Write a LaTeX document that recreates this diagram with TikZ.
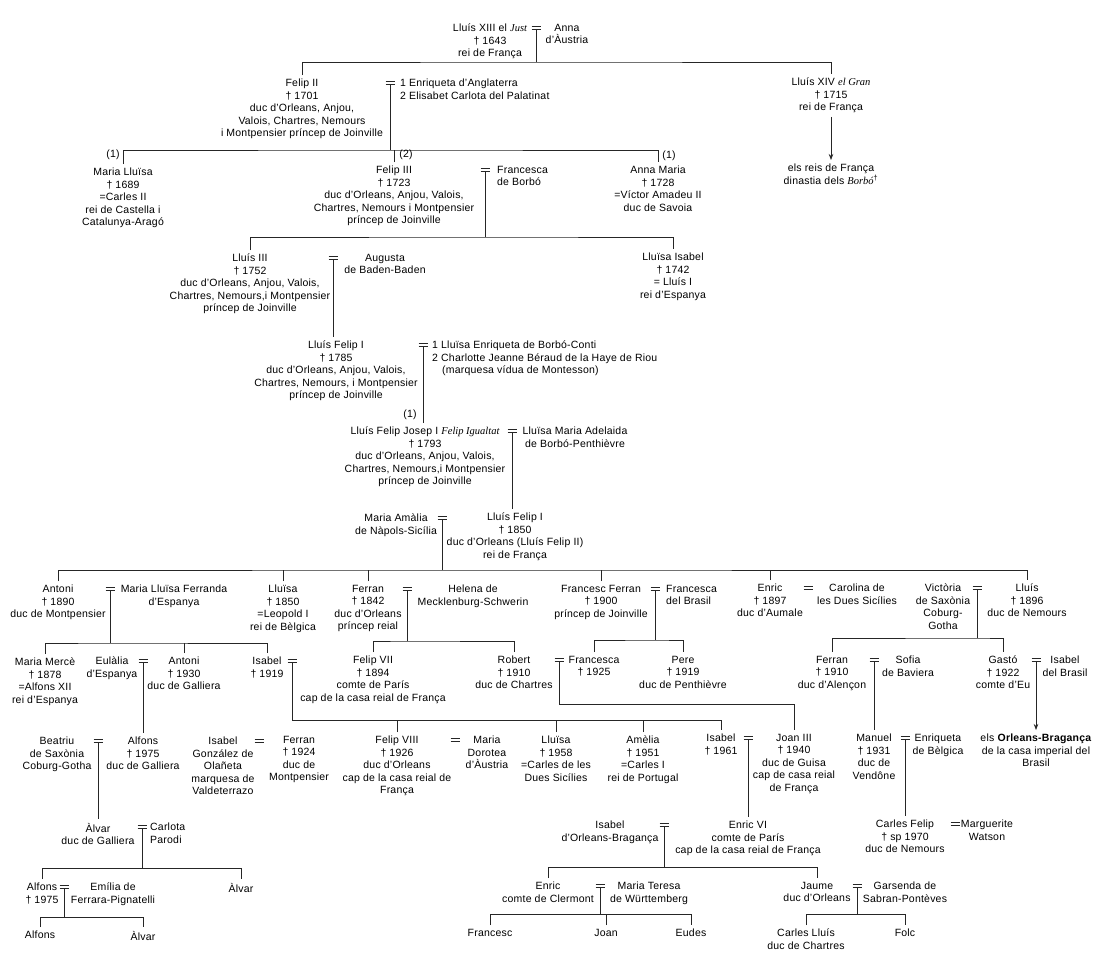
\documentclass[tikz,border=0pt]{standalone}
\usepackage{fontspec}
\setmainfont{Liberation Sans}[LetterSpace=2]
\newfontfamily\itserfam{Liberation Serif}
\newcommand\ivs[1]{{\itserfam\itshape #1}}
\usetikzlibrary{arrows.meta}
\tikzset{
  pers/.style={align=center, inner sep=0pt, outer ysep=4pt, anchor=north, yshift=8pt},
  spl/.style={align=left, inner sep=0pt, anchor=north west, yshift=4pt},
  lab/.style={inner sep=0pt, anchor=center},
  eqn/.style={inner sep=0pt, minimum size=0pt},
  ln/.style={line width=0.7pt, draw=black!85},
  arr/.style={ln, -{Stealth[length=6pt,width=4.5pt]}},
}
\newcommand\eqsign[2]{\node[eqn] (#1) at (#2) {};
  \draw[ln] ([shift={(-4.5pt,1.6pt)}]#1.center) -- ++(9pt,0pt)
            ([shift={(-4.5pt,-1.6pt)}]#1.center) -- ++(9pt,0pt);}
\begin{document}
\begin{tikzpicture}[x=1pt,y=-1pt,font=\fontsize{10.5pt}{12.5pt}\selectfont]
\fill[white] (0,0) rectangle (1100,961);
\useasboundingbox (0,0) rectangle (1100,961);

% ---- Lluis XIII
\node[pers] (lxiii) at (490,28) {Lluís XIII el \ivs{Just}\\† 1643\\rei de França};
\eqsign{e0}{536,28}
\node[pers] (anna) at (567,28) {Anna\\d’Àustria};
\coordinate (b0) at (536,62);
\draw[ln] ([yshift=-1.6pt]e0.center) -- (b0);
\node[pers] (f2) at (302,83) {Felip II\\† 1701\\duc d’Orleans, Anjou,\\Valois, Chartres, Nemours\\i Montpensier príncep de Joinville};
\node[pers] (lxiv) at (831,82) {Lluís XIV \ivs{el Gran}\\† 1715\\rei de França};
\draw[ln] (f2.north) |- (b0) -| (lxiv.north);
\node[pers] (reis) at (831,168) {els reis de França\\dinastia dels \ivs{Borbó}\textsuperscript{†}};
\draw[arr] (lxiv.south) -- (reis.north);

% ---- Felip II
\eqsign{e1}{390,83}
\node[spl] (w1) at (400,83) {1 Enriqueta d’Anglaterra\\2 Elisabet Carlota del Palatinat};
\coordinate (b1) at (390,150);
\draw[ln] ([yshift=-1.6pt]e1.center) -- (b1);
\node[pers] (ml) at (123,172) {Maria Lluïsa\\† 1689\\=Carles II\\rei de Castella i\\Catalunya-Aragó};
\node[pers] (f3) at (394,170) {Felip III\\† 1723\\duc d’Orleans, Anjou, Valois,\\Chartres, Nemours i Montpensier\\príncep de Joinville};
\node[pers] (am) at (658,170) {Anna Maria\\† 1728\\=Víctor Amadeu II\\duc de Savoia};
\draw[ln] (ml.north) |- (b1) -| (am.north);
\draw[ln] (f3.north) -- (f3.north |- b1);
\node[lab] (n1) at (113,155) {(1)};
\node[lab] (n2) at (406,155) {(2)};
\node[lab] (n3) at (669,156) {(1)};

% ---- Felip III
\eqsign{e2}{485,170}
\node[spl] (fb) at (497,170) {Francesca\\de Borbó};
\coordinate (b2) at (485,237);
\draw[ln] ([yshift=-1.6pt]e2.center) -- (b2);
\node[pers] (l3) at (250,258) {Lluís III\\† 1752\\duc d’Orleans, Anjou, Valois,\\Chartres, Nemours,i Montpensier\\príncep de Joinville};
\node[pers] (lis) at (673,257) {Lluïsa Isabel\\† 1742\\= Lluís I\\rei d’Espanya};
\draw[ln] (l3.north) |- (b2) -| (lis.north);

% ---- Lluis III
\eqsign{e3}{333,258}
\node[pers] (aug) at (385,258) {Augusta\\de Baden-Baden};
\node[pers] (lf1) at (336,345) {Lluís Felip I\\† 1785\\duc d’Orleans, Anjou, Valois,\\Chartres, Nemours, i Montpensier\\príncep de Joinville};
\draw[ln] ([yshift=-1.6pt]e3.center) -- (e3 |- lf1.north);

% ---- Lluis Felip I (1785)
\eqsign{e4}{423,345}
\node[spl] (w2) at (432,345) {1 Lluïsa Enriqueta de Borbó-Conti\\2 Charlotte Jeanne Béraud de la Haye de Riou\\\hspace*{10pt}(marquesa vídua de Montesson)};
\node[pers] (fj) at (425,431) {Lluís Felip Josep I \ivs{Felip Igualtat}\\† 1793\\duc d’Orleans, Anjou, Valois,\\Chartres, Nemours,i Montpensier\\príncep de Joinville};
\draw[ln] ([yshift=-1.6pt]e4.center) -- (e4 |- fj.north);
\node[lab] (n4) at (410,415) {(1)};

% ---- Felip Josep
\eqsign{e5}{512,431}
\node[pers] (lma) at (575,431) {Lluïsa Maria Adelaida\\de Borbó-Penthièvre};
\node[pers] (lf2) at (515,517) {Lluís Felip I\\† 1850\\duc d’Orleans (Lluís Felip II)\\rei de França};
\draw[ln] ([yshift=-1.6pt]e5.center) -- (e5 |- lf2.north);

% ---- Lluis Felip I (1850)
\node[pers] (mam) at (396,518) {Maria Amàlia\\de Nàpols-Sicília};
\eqsign{e6}{442,518}
\coordinate (b3) at (442,570);
\draw[ln] ([yshift=-1.6pt]e6.center) -- (b3);
\node[pers] (ant) at (58,589) {Antoni\\† 1890\\duc de Montpensier};
\node[pers] (llu) at (283,589) {Lluïsa\\† 1850\\=Leopold I\\rei de Bèlgica};
\node[pers] (fer) at (368,589) {Ferran\\† 1842\\duc d’Orleans\\príncep reial};
\node[pers] (ff) at (601,589) {Francesc Ferran\\† 1900\\príncep de Joinville};
\node[pers] (enr) at (770,588) {Enric\\† 1897\\duc d’Aumale};
\node[pers] (lln) at (1027,588) {Lluís\\† 1896\\duc de Nemours};
\draw[ln] (ant.north) |- (b3) -| (lln.north);
\foreach \c in {llu,fer,ff,enr} \draw[ln] (\c.north) -- (\c.north |- b3);

\eqsign{e7}{110,589}
\node[pers] (mlf) at (174,589) {Maria Lluïsa Ferranda\\d’Espanya};
\eqsign{e8}{407,589}
\node[pers] (hel) at (473,589) {Helena de\\Mecklenburg-Schwerin};
\eqsign{e9}{655,589}
\node[spl] (fdb) at (666,589) {Francesca\\del Brasil};
\eqsign{e10}{808,588}
\node[pers] (car) at (857,588) {Carolina de\\les Dues Sicílies};
\node[pers] (vic) at (943,588) {Victòria\\de Saxònia\\Coburg-\\Gotha};
\eqsign{e11}{977,588}

% ---- Antoni
\coordinate (b4) at (110,643);
\draw[ln] ([yshift=-1.6pt]e7.center) -- (b4);
\node[pers] (mm) at (45,662) {Maria Mercè\\† 1878\\=Alfons XII\\rei d’Espanya};
\node[pers] (an2) at (184,661) {Antoni\\† 1930\\duc de Galliera};
\node[pers] (isa) at (267,661) {Isabel\\† 1919};
\draw[ln] (mm.north) |- (b4) -| (isa.north);
\draw[ln] (an2.north) -- (an2.north |- b4);
\node[pers] (eul) at (112,661) {Eulàlia\\d’Espanya};
\eqsign{e12}{143,661}
\eqsign{e13}{292,661}

% ---- Ferran (1842)
\coordinate (b5) at (407,641);
\draw[ln] ([yshift=-1.6pt]e8.center) -- (b5);
\node[pers] (f7) at (373,660) {Felip VII\\† 1894\\comte de París\\cap de la casa reial de França};
\node[pers] (rob) at (514,660) {Robert\\† 1910\\duc de Chartres};
\draw[ln] (f7.north) |- (b5) -| (rob.north);
\eqsign{e14}{559,660}

% ---- Francesc Ferran
\coordinate (b6) at (655,640);
\draw[ln] ([yshift=-1.6pt]e9.center) -- (b6);
\node[pers] (fr25) at (594,660) {Francesca\\† 1925};
\node[pers] (pere) at (683,660) {Pere\\† 1919\\duc de Penthièvre};
\draw[ln] (fr25.north) |- (b6) -| (pere.north);

% ---- Lluis (Nemours)
\coordinate (b7) at (977,638);
\draw[ln] ([yshift=-1.6pt]e11.center) -- (b7);
\node[pers] (fen) at (832,660) {Ferran\\† 1910\\duc d’Alençon};
\node[pers] (gas) at (1003,660) {Gastó\\† 1922\\comte d’Eu};
\draw[ln] (fen.north) |- (b7) -| (gas.north);
\eqsign{e15}{874,660}
\node[pers] (sof) at (908,660) {Sofia\\de Baviera};
\eqsign{e16}{1036,660}
\node[pers] (idb) at (1065,660) {Isabel\\del Brasil};
\node[pers] (ob) at (1036,738) {els \textbf{Orleans-Bragança}\\de la casa imperial del\\Brasil};
\draw[arr] ([yshift=-1.6pt]e16.center) -- (e16 |- ob.north);

% ---- Isabel (1919) = Felip VII
\coordinate (b8) at (292,720);
\draw[ln] ([yshift=-1.6pt]e13.center) -- (b8);
\node[pers] (fe24) at (299,740) {Ferran\\† 1924\\duc de\\Montpensier};
\node[pers] (igo) at (223,741) {Isabel\\González de\\Olañeta\\marquesa de\\Valdeterrazo};
\eqsign{e17}{259,741}
\node[pers] (f8) at (397,740) {Felip VIII\\† 1926\\duc d’Orleans\\cap de la casa reial de\\França};
\eqsign{e18}{455,740}
\node[pers] (mdo) at (487,740) {Maria\\Dorotea\\d’Àustria};
\node[pers] (llu58) at (556,740) {Lluïsa\\† 1958\\=Carles de les\\Dues Sicílies};
\node[pers] (ame) at (643,740) {Amèlia\\† 1951\\=Carles I\\rei de Portugal};
\node[pers] (is61) at (721,738) {Isabel\\† 1961};
\draw[ln] (b8) -| (is61.north);
\foreach \c in {f8,llu58,ame} \draw[ln] (\c.north) -- (\c.north |- b8);
\eqsign{e19}{748,738}

% ---- Robert = Francesca
\node[pers] (joan) at (794,738) {Joan III\\† 1940\\duc de Guisa\\cap de casa reial\\de França};
\coordinate (b9) at (559,704);
\draw[ln] ([yshift=-1.6pt]e14.center) -- (b9) -| (joan.north);

% ---- Ferran (Alencon)
\node[pers] (man) at (874,738) {Manuel\\† 1931\\duc de\\Vendône};
\draw[ln] ([yshift=-1.6pt]e15.center) -- (e15 |- man.north);
\eqsign{e20}{905,738}
\node[pers] (enq) at (938,738) {Enriqueta\\de Bèlgica};
\node[pers] (cf) at (905,824) {Carles Felip\\† sp 1970\\duc de Nemours};
\draw[ln] ([yshift=-1.6pt]e20.center) -- (e20 |- cf.north);
\eqsign{e21}{955,824}
\node[pers] (mw) at (987,824) {Marguerite\\Watson};

% ---- Enric VI
\node[pers] (e6vi) at (748,825) {Enric VI\\comte de París\\cap de la casa reial de França};
\draw[ln] ([yshift=-1.6pt]e19.center) -- (e19 |- e6vi.north);
\node[pers] (iob) at (610,825) {Isabel\\d’Orleans-Bragança};
\eqsign{e22}{664,825}
\coordinate (b10) at (664,867);
\draw[ln] ([yshift=-1.6pt]e22.center) -- (b10);
\node[pers] (enc) at (548,886) {Enric\\comte de Clermont};
\node[pers] (jau) at (817,886) {Jaume\\duc d’Orleans};
\draw[ln] (enc.north) |- (b10) -| (jau.north);
\eqsign{e23}{600,886}
\node[pers] (mtw) at (649,886) {Maria Teresa\\de Württemberg};
\eqsign{e24}{857,886}
\node[pers] (gsp) at (905,886) {Garsenda de\\Sabran-Pontèves};
\coordinate (b11) at (600,914);
\draw[ln] ([yshift=-1.6pt]e23.center) -- (b11);
\node[pers] (fra) at (490,933) {Francesc};
\node[pers] (joa) at (606,933) {Joan};
\node[pers] (eud) at (691,933) {Eudes};
\draw[ln] (fra.north) |- (b11) -| (eud.north);
\draw[ln] (joa.north) -- (joa.north |- b11);
\coordinate (b12) at (857,914);
\draw[ln] ([yshift=-1.6pt]e24.center) -- (b12);
\node[pers] (cll) at (806,933) {Carles Lluís\\duc de Chartres};
\node[pers] (folc) at (905,933) {Folc};
\draw[ln] (cll.north) |- (b12) -| (folc.north);

% ---- Galliera branch
\node[pers] (alf75) at (143,741) {Alfons\\† 1975\\duc de Galliera};
\draw[ln] ([yshift=-1.6pt]e12.center) -- (e12 |- alf75.north);
\node[pers] (bea) at (57,741) {Beatriu\\de Saxònia\\Coburg-Gotha};
\eqsign{e25}{98,741}
\node[pers] (alv) at (98,827) {Àlvar\\duc de Galliera};
\draw[ln] ([yshift=-1.6pt]e25.center) -- (e25 |- alv.north);
\eqsign{e26}{142,827}
\node[spl] (cpa) at (150,827) {Carlota\\Parodi};
\coordinate (b13) at (142,868);
\draw[ln] ([yshift=-1.6pt]e26.center) -- (b13);
\node[pers] (alf2) at (42,887) {Alfons\\† 1975};
\node[pers] (alv2) at (241,887) {Àlvar};
\draw[ln] (alf2.north) |- (b13) -| (alv2.north);
\eqsign{e27}{64,887}
\node[pers] (emi) at (113,887) {Emília de\\Ferrara-Pignatelli};
\coordinate (b14) at (64,917);
\draw[ln] ([yshift=-1.6pt]e27.center) -- (b14);
\node[pers] (alf3) at (40,935) {Alfons};
\node[pers] (alv3) at (143,935) {Àlvar};
\draw[ln] (alf3.north) |- (b14) -| (alv3.north);
\end{tikzpicture}
\end{document}
